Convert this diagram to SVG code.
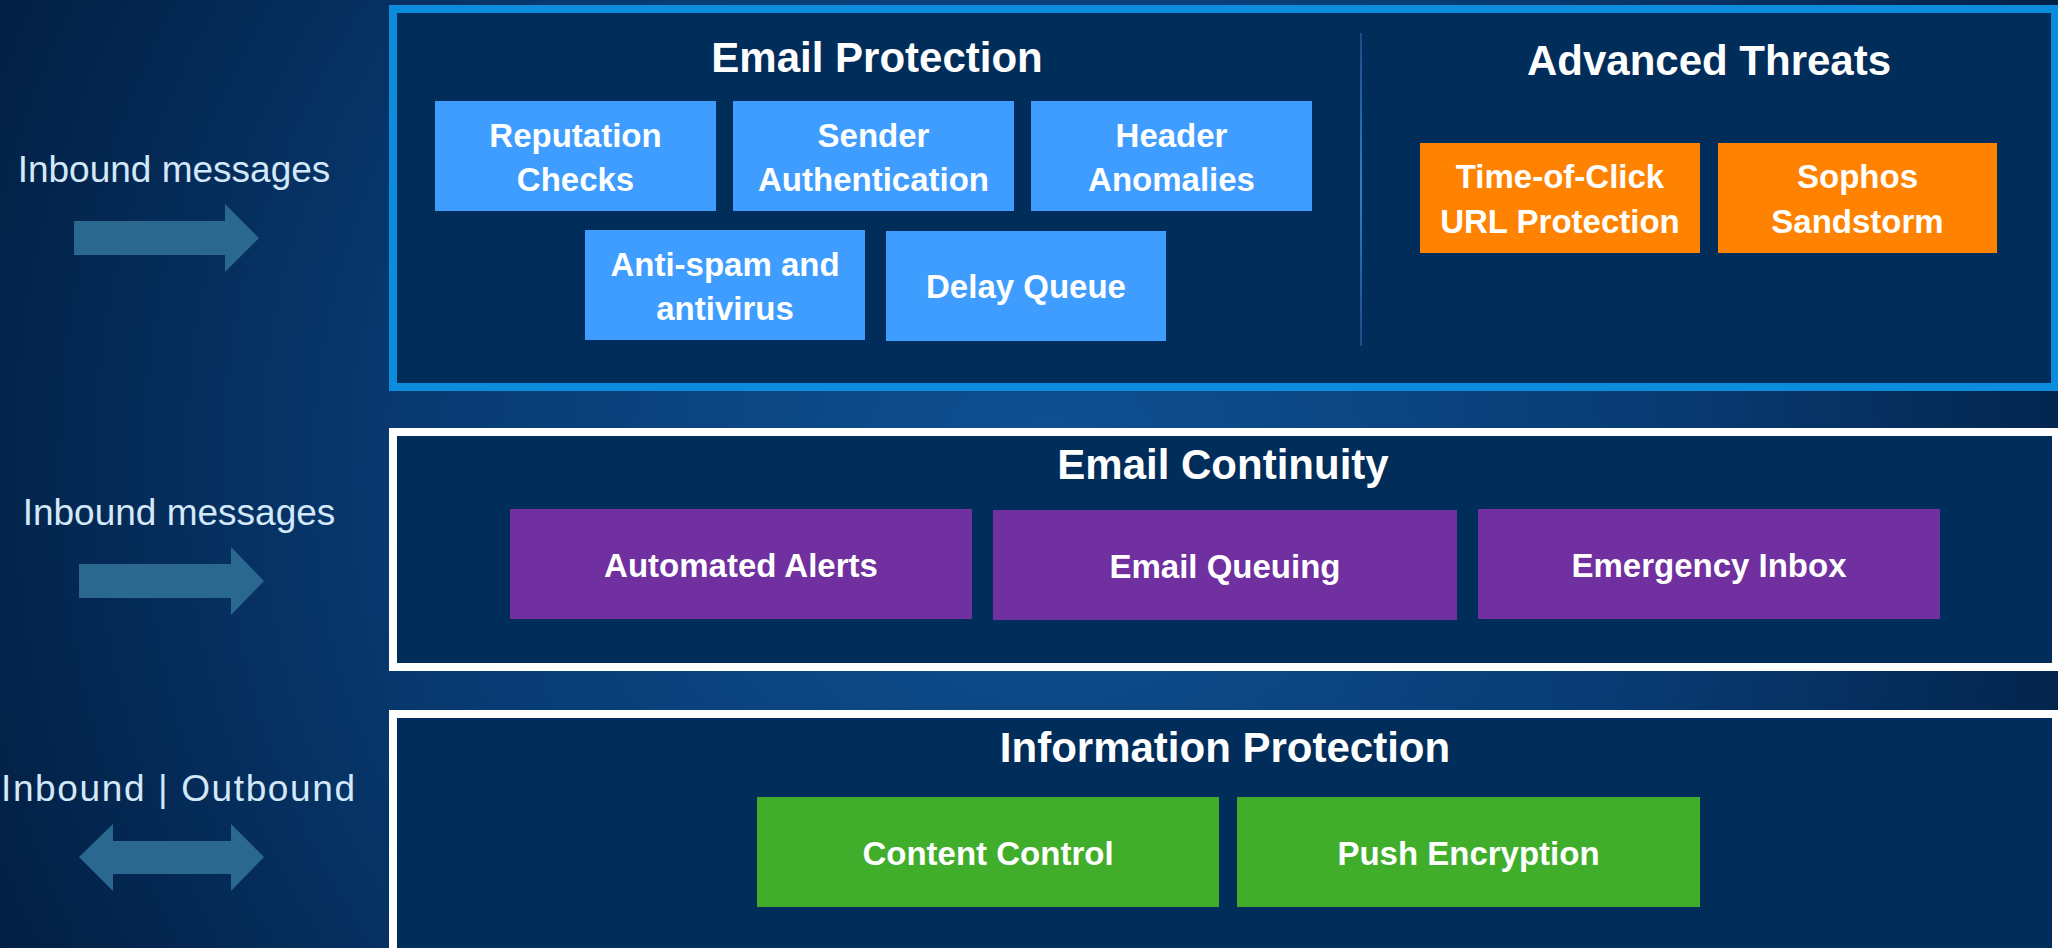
<svg xmlns="http://www.w3.org/2000/svg" width="2058" height="948" viewBox="0 0 2058 948">
<defs>
<radialGradient id="bg" cx="1050" cy="470" r="1150" gradientUnits="userSpaceOnUse">
<stop offset="0" stop-color="#0f5193"/>
<stop offset="0.55" stop-color="#083a72"/>
<stop offset="1" stop-color="#021f43"/>
</radialGradient>
<linearGradient id="div" x1="0" y1="33" x2="0" y2="346" gradientUnits="userSpaceOnUse">
<stop offset="0" stop-color="#1b4d86"/>
<stop offset="0.5" stop-color="#3a7cc4"/>
<stop offset="1" stop-color="#1b4d86"/>
</linearGradient>
</defs>
<style>
.panel{fill:#012d5b}
.pblue{stroke:#0b8cdc;stroke-width:8}
.pwhite{stroke:#ffffff;stroke-width:8}
.title{font-family:"Liberation Sans",Arial,sans-serif;font-weight:bold;font-size:42px;fill:#ffffff;text-anchor:middle}
.lbl{font-family:"Liberation Sans",Arial,sans-serif;font-weight:bold;font-size:33px;fill:#ffffff;text-anchor:middle}
.side{font-family:"Liberation Sans",Arial,sans-serif;font-size:37px;fill:#d3e8f8;text-anchor:middle}
.blue{fill:#3e9dff}
.orange{fill:#ff8300}
.purple{fill:#7030a0}
.green{fill:#40ae2a}
.arrow{fill:#2b6890}
</style>
<rect x="0" y="0" width="2058" height="948" fill="url(#bg)"/>

<g id="side-labels">
<text class="side" x="174" y="182">Inbound messages</text>
<text class="side" x="179" y="525">Inbound messages</text>
<text class="side" x="178" y="801" textLength="354" lengthAdjust="spacing">Inbound | Outbound</text>
</g>

<g id="connectors">
<polygon class="arrow" points="74,221 225,221 225,204 259,238 225,272 225,255 74,255"/>
<polygon class="arrow" points="79,564 231,564 231,547 264,581 231,615 231,598 79,598"/>
<polygon class="arrow" points="79,857 113,824 113,841 231,841 231,824 264,857 231,891 231,874 113,874 113,891"/>
</g>

<g id="email-protection-panel">
<rect class="panel pblue" x="393" y="9" width="1662" height="378"/>
<rect x="1360" y="33" width="2" height="313" fill="url(#div)"/>
<text class="title" x="877" y="72">Email Protection</text>
<text class="title" x="1709" y="75">Advanced Threats</text>
</g>

<g id="reputation-checks">
<rect class="blue" x="435" y="101" width="281" height="110"/>
<text class="lbl" x="575.5" y="147">Reputation</text>
<text class="lbl" x="575.5" y="191">Checks</text>
</g>
<g id="sender-authentication">
<rect class="blue" x="733" y="101" width="281" height="110"/>
<text class="lbl" x="873.5" y="147">Sender</text>
<text class="lbl" x="873.5" y="191">Authentication</text>
</g>
<g id="header-anomalies">
<rect class="blue" x="1031" y="101" width="281" height="110"/>
<text class="lbl" x="1171.5" y="147">Header</text>
<text class="lbl" x="1171.5" y="191">Anomalies</text>
</g>
<g id="anti-spam">
<rect class="blue" x="585" y="230" width="280" height="110"/>
<text class="lbl" x="725" y="276">Anti-spam and</text>
<text class="lbl" x="725" y="320">antivirus</text>
</g>
<g id="delay-queue">
<rect class="blue" x="886" y="231" width="280" height="110"/>
<text class="lbl" x="1026" y="298">Delay Queue</text>
</g>
<g id="time-of-click">
<rect class="orange" x="1420" y="143" width="280" height="110"/>
<text class="lbl" x="1560" y="188">Time-of-Click</text>
<text class="lbl" x="1560" y="233">URL Protection</text>
</g>
<g id="sophos-sandstorm">
<rect class="orange" x="1718" y="143" width="279" height="110"/>
<text class="lbl" x="1857.5" y="188">Sophos</text>
<text class="lbl" x="1857.5" y="233">Sandstorm</text>
</g>

<g id="email-continuity-panel">
<rect class="panel pwhite" x="393" y="432" width="1663" height="235"/>
<text class="title" x="1223" y="479">Email Continuity</text>
</g>
<g id="automated-alerts">
<rect class="purple" x="510" y="509" width="462" height="110"/>
<text class="lbl" x="741" y="577">Automated Alerts</text>
</g>
<g id="email-queuing">
<rect class="purple" x="993" y="510" width="464" height="110"/>
<text class="lbl" x="1225" y="578">Email Queuing</text>
</g>
<g id="emergency-inbox">
<rect class="purple" x="1478" y="509" width="462" height="110"/>
<text class="lbl" x="1709" y="577">Emergency Inbox</text>
</g>

<g id="information-protection-panel">
<rect class="panel pwhite" x="393" y="714" width="1663" height="238"/>
<text class="title" x="1225" y="762">Information Protection</text>
</g>
<g id="content-control">
<rect class="green" x="757" y="797" width="462" height="110"/>
<text class="lbl" x="988" y="865">Content Control</text>
</g>
<g id="push-encryption">
<rect class="green" x="1237" y="797" width="463" height="110"/>
<text class="lbl" x="1468.5" y="865">Push Encryption</text>
</g>
</svg>
